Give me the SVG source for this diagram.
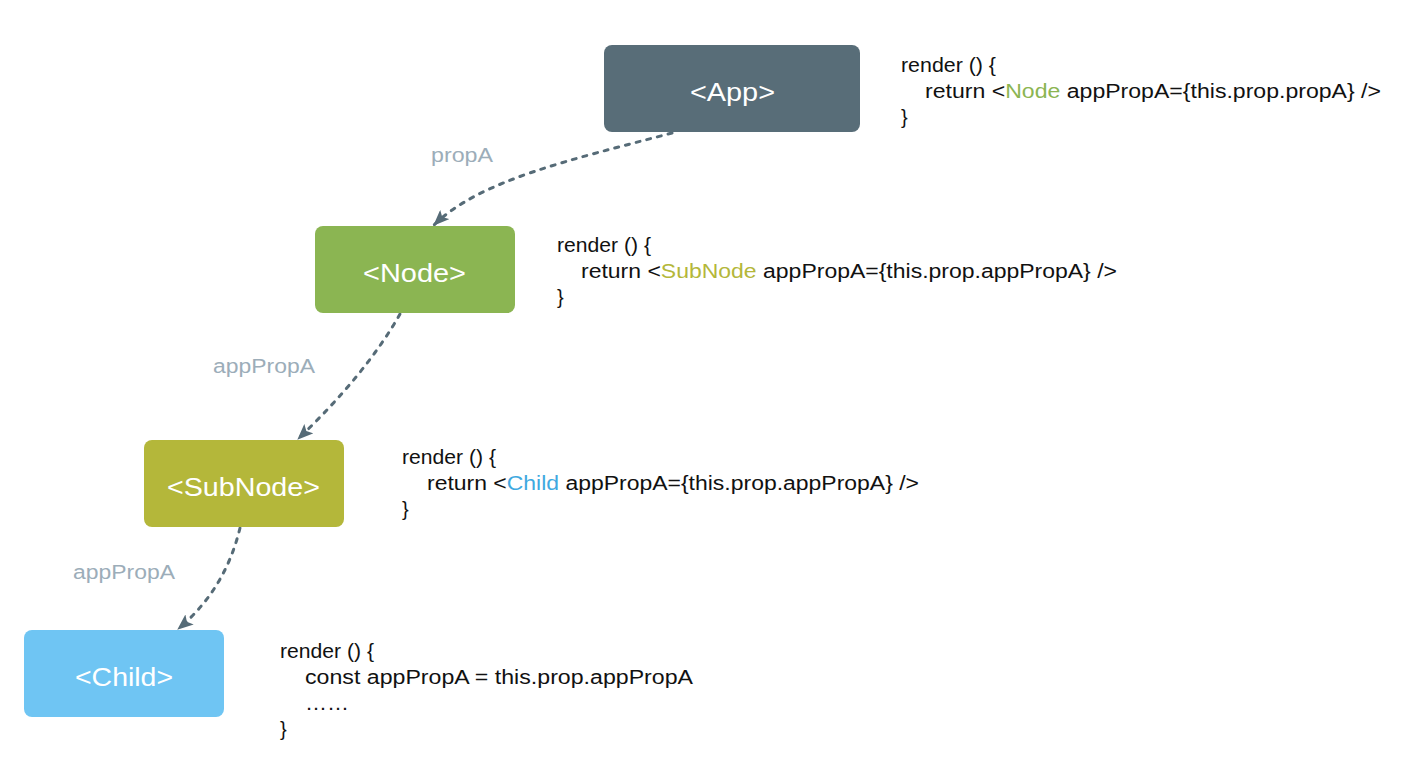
<svg xmlns="http://www.w3.org/2000/svg" width="1412" height="768" viewBox="0 0 1412 768">
<style>
.box-label{font-family:"Liberation Sans",Arial,sans-serif;font-size:25px;fill:#ffffff}
.code{font-family:"Liberation Sans",Arial,sans-serif;font-size:20px;fill:#111111}
.edge{fill:none;stroke:#566b77;stroke-width:3;stroke-dasharray:4 7;stroke-linecap:round}
.elabel{font-family:"Liberation Sans",Arial,sans-serif;font-size:20px;fill:#9cadb9}
</style>
<defs>
<marker id="arrow" viewBox="0 0 16 13" refX="15" refY="6.5" markerWidth="16" markerHeight="13" markerUnits="userSpaceOnUse" orient="auto">
<path d="M0,0 L16,6.5 L0,13 L3.5,6.5 Z" fill="#566b77"/>
</marker>
</defs>
<rect width="1412" height="768" fill="#ffffff"/>
<g id="connectors">
<path class="edge" d="M672,133 C570,160 480,180 434,225" marker-end="url(#arrow)"/>
<path class="edge" d="M400,314 Q366,374 298,439" marker-end="url(#arrow)"/>
<path class="edge" d="M240,528 Q225,590 178,629" marker-end="url(#arrow)"/>
<text class="elabel" x="431" y="162" textLength="62" lengthAdjust="spacingAndGlyphs">propA</text>
<text class="elabel" x="213" y="373" textLength="102" lengthAdjust="spacingAndGlyphs">appPropA</text>
<text class="elabel" x="73" y="579" textLength="102" lengthAdjust="spacingAndGlyphs">appPropA</text>
</g>
<g id="app">
<rect x="604" y="45" width="256" height="87" rx="8" fill="#586d78"/>
<text class="box-label" x="690" y="101" textLength="85" lengthAdjust="spacingAndGlyphs">&lt;App&gt;</text>
</g>
<g id="node">
<rect x="315" y="226" width="200" height="87" rx="8" fill="#8bb552"/>
<text class="box-label" x="363" y="282" textLength="103" lengthAdjust="spacingAndGlyphs">&lt;Node&gt;</text>
</g>
<g id="subnode">
<rect x="144" y="440" width="200" height="87" rx="8" fill="#b4b73a"/>
<text class="box-label" x="167" y="496" textLength="153" lengthAdjust="spacingAndGlyphs">&lt;SubNode&gt;</text>
</g>
<g id="child">
<rect x="24" y="630" width="200" height="87" rx="8" fill="#6fc5f3"/>
<text class="box-label" x="75" y="686" textLength="98" lengthAdjust="spacingAndGlyphs">&lt;Child&gt;</text>
</g>
<g id="code-app">
<text class="code" x="901" y="72" textLength="95" lengthAdjust="spacingAndGlyphs">render () {</text>
<text class="code" x="925" y="98" textLength="456" lengthAdjust="spacingAndGlyphs">return &lt;<tspan fill="#8bb552">Node</tspan> appPropA={this.prop.propA} /&gt;</text>
<text class="code" x="901" y="124">}</text>
</g>
<g id="code-node">
<text class="code" x="557" y="252" textLength="94" lengthAdjust="spacingAndGlyphs">render () {</text>
<text class="code" x="581" y="278" textLength="536" lengthAdjust="spacingAndGlyphs">return &lt;<tspan fill="#b4b73a">SubNode</tspan> appPropA={this.prop.appPropA} /&gt;</text>
<text class="code" x="557" y="304">}</text>
</g>
<g id="code-subnode">
<text class="code" x="402" y="464" textLength="94" lengthAdjust="spacingAndGlyphs">render () {</text>
<text class="code" x="427" y="490" textLength="492" lengthAdjust="spacingAndGlyphs">return &lt;<tspan fill="#3fa9e0">Child</tspan> appPropA={this.prop.appPropA} /&gt;</text>
<text class="code" x="402" y="516">}</text>
</g>
<g id="code-child">
<text class="code" x="280" y="658" textLength="94" lengthAdjust="spacingAndGlyphs">render () {</text>
<text class="code" x="305" y="684" textLength="388" lengthAdjust="spacingAndGlyphs">const appPropA = this.prop.appPropA</text>
<text class="code" x="305" y="710" textLength="44" lengthAdjust="spacingAndGlyphs">……</text>
<text class="code" x="280" y="736">}</text>
</g>
</svg>
